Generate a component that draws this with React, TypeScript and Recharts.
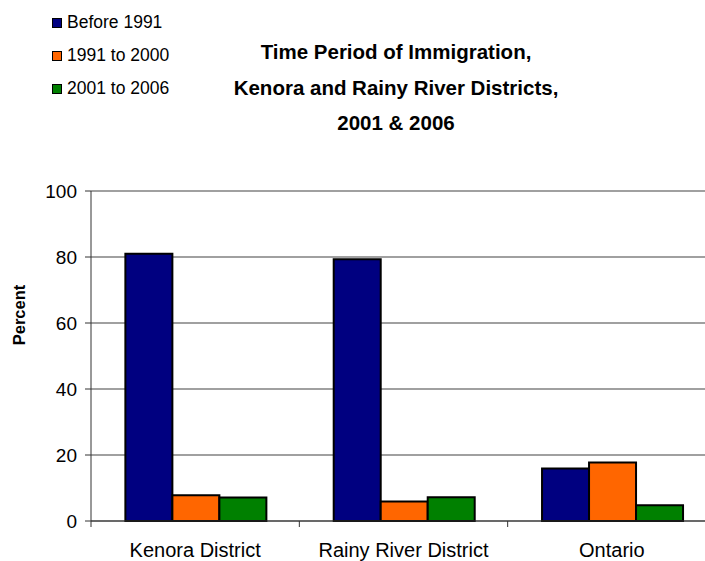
import React from 'react';
import { BarChart, Bar, XAxis, YAxis, CartesianGrid, Legend, Label } from 'recharts';

const categories = ['Kenora District', 'Rainy River District', 'Ontario'];
const before1991 = [81.0, 79.3, 15.9];
const from1991to2000 = [7.8, 5.9, 17.7];
const from2001to2006 = [7.1, 7.2, 4.8];
const yTicks = [0, 20, 40, 60, 80, 100];
const titleLines = ['Time Period of Immigration,', 'Kenora and Rainy River Districts,', '2001 & 2006'];

const data = categories.map((name, i) => ({
  name,
  before: before1991[i],
  mid: from1991to2000[i],
  recent: from2001to2006[i],
}));

const FONT = '"Liberation Sans", Arial, sans-serif';

const CategoryTick = (props: any) => {
  const { x, y, payload } = props;
  const half = payload.offset ?? 0;
  return (
    <g>
      <line x1={x - half} x2={x - half} y1={y} y2={y + 6} stroke="#333" strokeWidth={1} />
      <text x={x} y={y + 36} textAnchor="middle" fontSize={20} fill="#000" fontFamily={FONT}>
        {payload.value}
      </text>
    </g>
  );
};

const LegendBox = (props: any) => {
  const { payload } = props;
  return (
    <div style={{ fontFamily: FONT, fontSize: 17.5, color: '#000' }}>
      {payload.map((entry: any) => (
        <div key={entry.value} style={{ height: 33, lineHeight: '33px', display: 'flex', alignItems: 'center' }}>
          <span
            style={{
              display: 'inline-block',
              width: 8,
              height: 8,
              background: entry.color,
              border: '1.5px solid #000',
              marginRight: 5,
            }}
          />
          <span>{entry.value}</span>
        </div>
      ))}
    </div>
  );
};

const PercentLabel = (props: any) => {
  const { viewBox } = props;
  const cx = 18.5;
  const cy = viewBox.y + viewBox.height / 2 - 41;
  return (
    <text
      x={cx}
      y={cy}
      transform={`rotate(-90 ${cx} ${cy})`}
      textAnchor="middle"
      dominantBaseline="central"
      fontSize={16.5}
      fontWeight="bold"
      fontFamily={FONT}
      fill="#000"
    >
      Percent
    </text>
  );
};

export default function App() {
  return (
    <div
      style={{
        position: 'absolute',
        left: 0,
        top: 0,
        width: 705,
        height: 561,
        overflow: 'hidden',
        background: '#fff',
        fontFamily: FONT,
      }}
    >
      <div
        style={{
          position: 'absolute',
          left: 196,
          top: 34,
          width: 400,
          textAlign: 'center',
          fontSize: 20.5,
          fontWeight: 'bold',
          lineHeight: '35.5px',
          color: '#000',
          zIndex: 1,
        }}
      >
        {titleLines.map((t) => (
          <div key={t}>{t}</div>
        ))}
      </div>
      <BarChart
        width={720}
        height={561}
        data={data}
        margin={{ top: 191, right: 4, bottom: 10, left: 0 }}
        barGap={0}
        barCategoryGap="16.5%"
      >
        <CartesianGrid vertical={false} stroke="#808080" strokeWidth={1.5} />
        <XAxis
          dataKey="name"
          height={30}
          stroke="#333"
          tickLine={false}
          tickSize={0}
          tickMargin={0}
          interval={0}
          tick={<CategoryTick />}
        />
        <YAxis
          width={91}
          domain={[0, 100]}
          ticks={yTicks}
          stroke="#333"
          tickSize={6}
          tickMargin={8}
          tick={{ fill: '#000', fontSize: 19, fontFamily: FONT }}
        >
          <Label content={<PercentLabel />} />
        </YAxis>
        <Legend
          layout="vertical"
          align="center"
          verticalAlign="middle"
          itemSorter={null as any}
          wrapperStyle={{ left: 52, top: 6, width: 170 }}
          content={<LegendBox />}
        />
        <Bar dataKey="before" name="Before 1991" fill="#000080" stroke="#000" strokeWidth={2} isAnimationActive={false} />
        <Bar dataKey="mid" name="1991 to 2000" fill="#FF6600" stroke="#000" strokeWidth={2} isAnimationActive={false} />
        <Bar dataKey="recent" name="2001 to 2006" fill="#008000" stroke="#000" strokeWidth={2} isAnimationActive={false} />
      </BarChart>
    </div>
  );
}
